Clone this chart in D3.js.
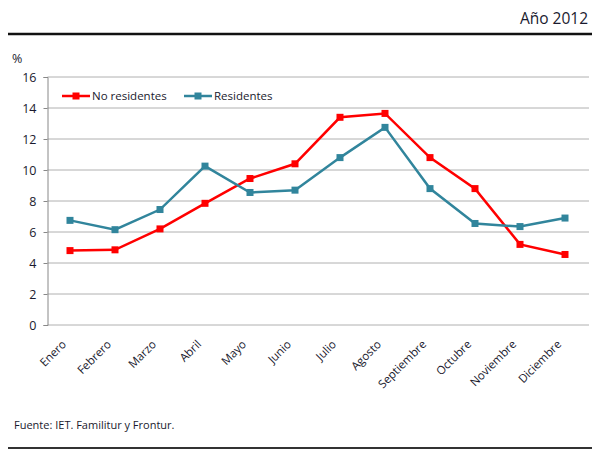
<!DOCTYPE html>
<html>
<head>
<meta charset="utf-8">
<script src="https://cdn.jsdelivr.net/npm/d3@7"></script>
<style>
  body { margin: 0; background: #fff; }
  text { font-family: "Open Sans", "Noto Sans", sans-serif; fill: #1a1a2e; }
</style>
</head>
<body>
<div id="chart"></div>
<script>
const months = ['Enero', 'Febrero', 'Marzo', 'Abril', 'Mayo', 'Junio', 'Julio', 'Agosto', 'Septiembre', 'Octubre', 'Noviembre', 'Diciembre'];
const noResidentes = [4.8, 4.85, 6.2, 7.85, 9.45, 10.4, 13.4, 13.65, 10.8, 8.8, 5.2, 4.55];
const residentes = [6.75, 6.15, 7.45, 10.25, 8.55, 8.7, 10.8, 12.75, 8.8, 6.55, 6.35, 6.9];
const yTicks = [0, 2, 4, 6, 8, 10, 12, 14, 16];

const series = [
    { name: 'No residentes', values: noResidentes, color: '#ff0000' },
    { name: 'Residentes', values: residentes, color: '#31859c' }
];

const width = 592, height = 450;
const margin = { top: 77, right: 4, bottom: 125, left: 47.5 };

const svg = d3.select('#chart').append('svg')
    .attr('width', width)
    .attr('height', height);

// header
svg.append('text')
    .attr('x', 588).attr('y', 24)
    .attr('text-anchor', 'end')
    .style('font-size', '15.5px')
    .text('Año 2012');

svg.append('line')
    .attr('x1', 8).attr('x2', 592)
    .attr('y1', 34).attr('y2', 34)
    .attr('stroke', '#111').attr('stroke-width', 2.5);

svg.append('text')
    .attr('x', 12).attr('y', 63)
    .style('font-size', '12.5px')
    .text('%');

const x = d3.scaleBand()
    .domain(months)
    .range([margin.left, 587.5]);

const y = d3.scaleLinear()
    .domain([0, 16])
    .range([height - margin.bottom, margin.top]);

// gridlines
svg.append('g')
    .selectAll('line')
    .data(yTicks)
    .join('line')
    .attr('x1', margin.left).attr('x2', 589)
    .attr('y1', d => y(d)).attr('y2', d => y(d))
    .attr('stroke', '#b0b0b0').attr('stroke-width', 1);

// y axis
const yAxis = svg.append('g')
    .attr('transform', `translate(${margin.left},0)`)
    .call(d3.axisLeft(y).tickValues(yTicks).tickSize(4).tickPadding(7));
yAxis.select('.domain').attr('stroke', '#888');
yAxis.selectAll('.tick line').attr('stroke', '#888');
yAxis.selectAll('text').style('font-size', '12.5px').attr('fill', '#1a1a2e');

// x axis labels
const xAxis = svg.append('g')
    .attr('transform', `translate(0,${y(0)})`)
    .call(d3.axisBottom(x).tickSize(0).tickPadding(0));
xAxis.select('.domain').remove();
xAxis.selectAll('text')
    .style('font-size', '11.5px')
    .attr('fill', '#1a1a2e')
    .attr('text-anchor', 'end')
    .attr('dy', 0)
    .attr('transform', 'translate(-3,20) rotate(-45)');

// lines
const line = d3.line()
    .x((d, i) => x(months[i]) + x.bandwidth() / 2)
    .y(d => y(d));

series.forEach(s => {
    svg.append('path')
        .datum(s.values)
        .attr('fill', 'none')
        .attr('stroke', s.color)
        .attr('stroke-width', 2.5)
        .attr('d', line);

    svg.append('g')
        .selectAll('rect')
        .data(s.values)
        .join('rect')
        .attr('x', (d, i) => x(months[i]) + x.bandwidth() / 2 - 3.5)
        .attr('y', d => y(d) - 3.5)
        .attr('width', 7).attr('height', 7)
        .attr('fill', s.color);
});

// legend
const legend = svg.append('g')
    .attr('transform', 'translate(62,96)');

const legendItems = legend.selectAll('g')
    .data(series)
    .join('g')
    .attr('transform', (d, i) => `translate(${i * 122},0)`);

legendItems.append('line')
    .attr('x1', 0).attr('x2', 28)
    .attr('stroke', d => d.color)
    .attr('stroke-width', 2.5);

legendItems.append('rect')
    .attr('x', 10.5).attr('y', -3.5)
    .attr('width', 7).attr('height', 7)
    .attr('fill', d => d.color);

legendItems.append('text')
    .attr('x', 30).attr('y', 4)
    .style('font-size', '11.5px')
    .text(d => d.name);

// footer
svg.append('text')
    .attr('x', 14).attr('y', 429)
    .style('font-size', '11px')
    .text('Fuente: IET. Familitur y Frontur.');

svg.append('line')
    .attr('x1', 8).attr('x2', 592)
    .attr('y1', 448).attr('y2', 448)
    .attr('stroke', '#333').attr('stroke-width', 2);
</script>
</body>
</html>
